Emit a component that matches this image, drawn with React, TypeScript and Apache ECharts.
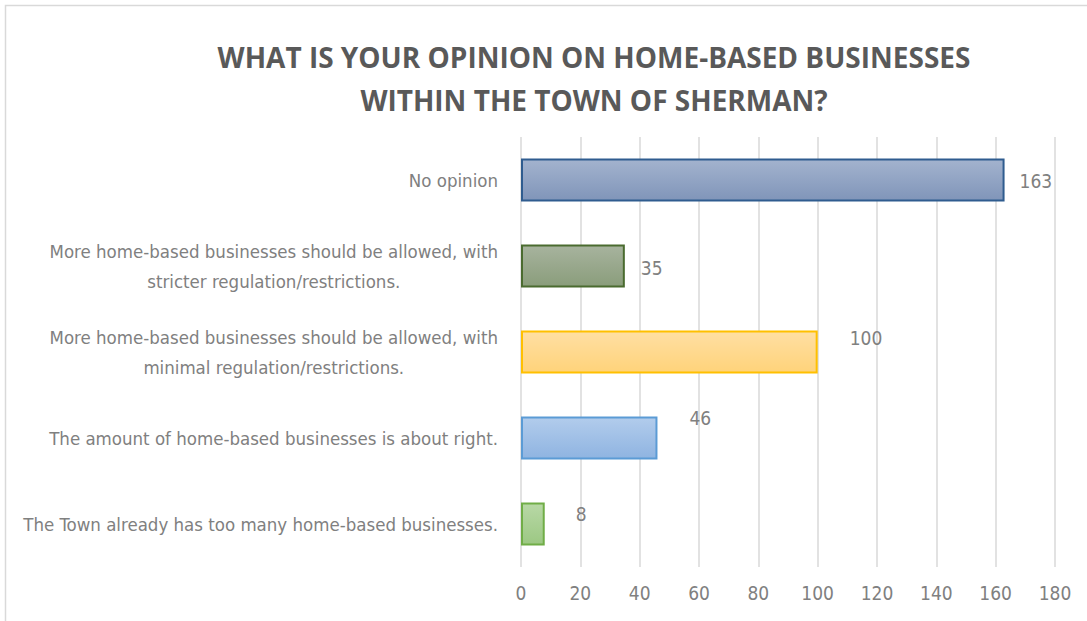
import React, { useEffect, useRef } from "react";
import * as echarts from "echarts";

const TITLE_LINES = ["WHAT IS YOUR OPINION ON HOME-BASED BUSINESSES", "WITHIN THE TOWN OF SHERMAN?"];

const categories = [
  "No opinion",
  "More home-based businesses should be allowed, with\nstricter regulation/restrictions.",
  "More home-based businesses should be allowed, with\nminimal regulation/restrictions.",
  "The amount of home-based businesses is about right.",
  "The Town already has too many home-based businesses.",
];
const values = [163, 35, 100, 46, 8];

const gradTop = ["#a3b3ce", "#a7b39e", "#ffdfa3", "#b2ccec", "#b8d8a6"];
const gradBottom = ["#8095b9", "#8a9d7b", "#ffd37a", "#8fb4e1", "#9cc883"];
const borders = ["#2f5c8f", "#4a6b2f", "#ffc000", "#5b9bd5", "#70ad47"];
// label nudges (dx, dy) mimicking hand-placed data labels
const labelDx = [10, 11, 27, 27, 26];
const labelDy = [1, 2, -14, -20, -10];

const FONT = "'Liberation Sans Narrow', 'DejaVu Sans Condensed', sans-serif";

export default function App() {
  const ref = useRef<HTMLDivElement>(null);
  useEffect(() => {
    document.body.style.margin = "0";
    const chart = echarts.init(ref.current!, null, { renderer: "svg" });
    const option: any = {
      animation: false,
      backgroundColor: "#ffffff",
      title: {
        text: TITLE_LINES.join("\n"),
        left: 589,
        top: 30,
        textAlign: "center",
        textStyle: {
          fontFamily: "'Open Sans', sans-serif",
          fontWeight: "bold",
          fontSize: 28,
          lineHeight: 43,
          color: "#595959",
        },
      },
      graphic: [
        {
          type: "rect",
          shape: { x: 5.5, y: 5.5, width: 1200, height: 800 },
          style: { fill: "none", stroke: "#d9d9d9", lineWidth: 1.5 },
          silent: true,
          z: -1,
        },
      ],
      grid: { left: 521, right: 32, top: 137, bottom: 54, containLabel: false, outerBoundsMode: "none" },
      xAxis: {
        type: "value",
        min: 0,
        max: 180,
        interval: 20,
        axisLine: { show: false },
        axisTick: { show: false },
        splitLine: { show: true, lineStyle: { color: "#d9d9d9", width: 1.5 } },
        axisLabel: { color: "#808080", fontFamily: FONT, fontSize: 19, margin: 16 },
      },
      yAxis: {
        type: "category",
        data: categories,
        inverse: true,
        axisLine: { show: false },
        axisTick: { show: false },
        axisLabel: {
          color: "#808080",
          fontFamily: FONT,
          fontSize: 18.5,
          margin: 23,
          align: "right",
          formatter: (v: string) => {
            const lines = v.split("\n");
            if (lines.length === 1) return `{r|${v}}`;
            return lines.map((l) => `{c|${l}}`).join("\n");
          },
          rich: {
            r: { fontFamily: FONT, fontSize: 18.5, color: "#808080", lineHeight: 30, align: "right" },
            c: { fontFamily: FONT, fontSize: 18.5, color: "#808080", lineHeight: 30, align: "center" },
          },
        },
      },
      series: [
        {
          type: "bar",
          barWidth: "50%",
          data: values.map((v, i) => ({
            value: v,
            itemStyle: {
              color: new echarts.graphic.LinearGradient(0, 0, 0, 1, [
                { offset: 0, color: gradTop[i] },
                { offset: 1, color: gradBottom[i] },
              ]),
              borderColor: borders[i],
              borderWidth: 2,
            },
            label: { offset: [labelDx[i], labelDy[i]] },
          })),
          label: {
            show: true,
            position: "right",
            distance: 5,
            color: "#808080",
            fontFamily: FONT,
            fontSize: 19,
          },
        },
      ],
    };
    chart.setOption(option);
    return () => chart.dispose();
  }, []);
  return <div ref={ref} style={{ position: "fixed", left: 0, top: 0, width: 1087, height: 621 }} />;
}
